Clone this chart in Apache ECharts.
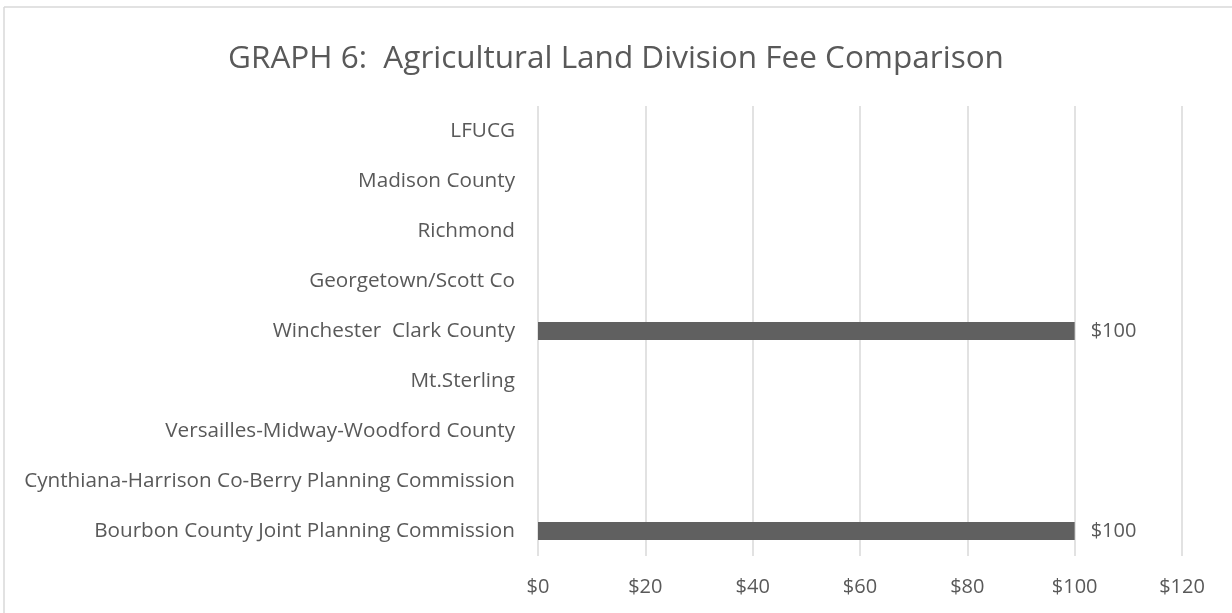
<!DOCTYPE html>
<html>
<head>
<meta charset="utf-8">
<script src="https://cdn.jsdelivr.net/npm/echarts@6/dist/echarts.min.js"></script>
<style>
html,body{margin:0;padding:0;background:#fff;}
#chart{width:1232px;height:613px;}
</style>
</head>
<body>
<div id="chart"></div>
<script>
// categories bottom -> top (as on the y axis)
var categories = [
    'Bourbon County Joint Planning Commission',
    'Cynthiana-Harrison Co-Berry Planning Commission',
    'Versailles-Midway-Woodford County',
    'Mt.Sterling',
    'Winchester  Clark County',
    'Georgetown/Scott Co',
    'Richmond',
    'Madison County',
    'LFUCG'
];
// fee in dollars, null = no bar
var fees = [100, null, null, null, 100, null, null, null, null];
var xTicks = [0, 20, 40, 60, 80, 100, 120];

var myChart = echarts.init(document.getElementById('chart'));
var font = 'Open Sans';
var txt = '#595959';

var option = {
    animation: false,
    backgroundColor: '#fff',
    title: {
        text: 'GRAPH 6:  Agricultural Land Division Fee Comparison',
        left: 'center',
        top: 38,
        textStyle: {fontFamily: font, fontSize: 31.5, fontWeight: 'normal', color: txt}
    },
    graphic: [
        {type: 'line', shape: {x1: 4, y1: 7, x2: 1232, y2: 7}, style: {stroke: '#d9d9d9', lineWidth: 1.5}},
        {type: 'line', shape: {x1: 4, y1: 7, x2: 4, y2: 613}, style: {stroke: '#d9d9d9', lineWidth: 1.5}}
    ],
    grid: {left: 538, right: 50, top: 106, bottom: 57},
    xAxis: {
        type: 'value',
        min: xTicks[0],
        max: xTicks[xTicks.length - 1],
        interval: 20,
        axisLine: {show: false},
        axisTick: {show: false},
        splitLine: {lineStyle: {color: '#d9d9d9', width: 1.5}},
        axisLabel: {
            margin: 21,
            fontFamily: font, fontSize: 20, color: txt,
            formatter: function (v) { return '$' + v; }
        }
    },
    yAxis: {
        type: 'category',
        data: categories,
        axisLine: {show: false},
        axisTick: {show: false},
        axisLabel: {margin: 23, fontFamily: font, fontSize: 20.7, color: txt}
    },
    series: [{
        type: 'bar',
        data: fees,
        barWidth: 18,
        itemStyle: {color: '#606060'},
        label: {
            show: true,
            position: 'right',
            distance: 16,
            fontFamily: font, fontSize: 20, color: txt,
            formatter: function (p) { return '$' + p.value; }
        }
    }]
};
myChart.setOption(option);
</script>
</body>
</html>
